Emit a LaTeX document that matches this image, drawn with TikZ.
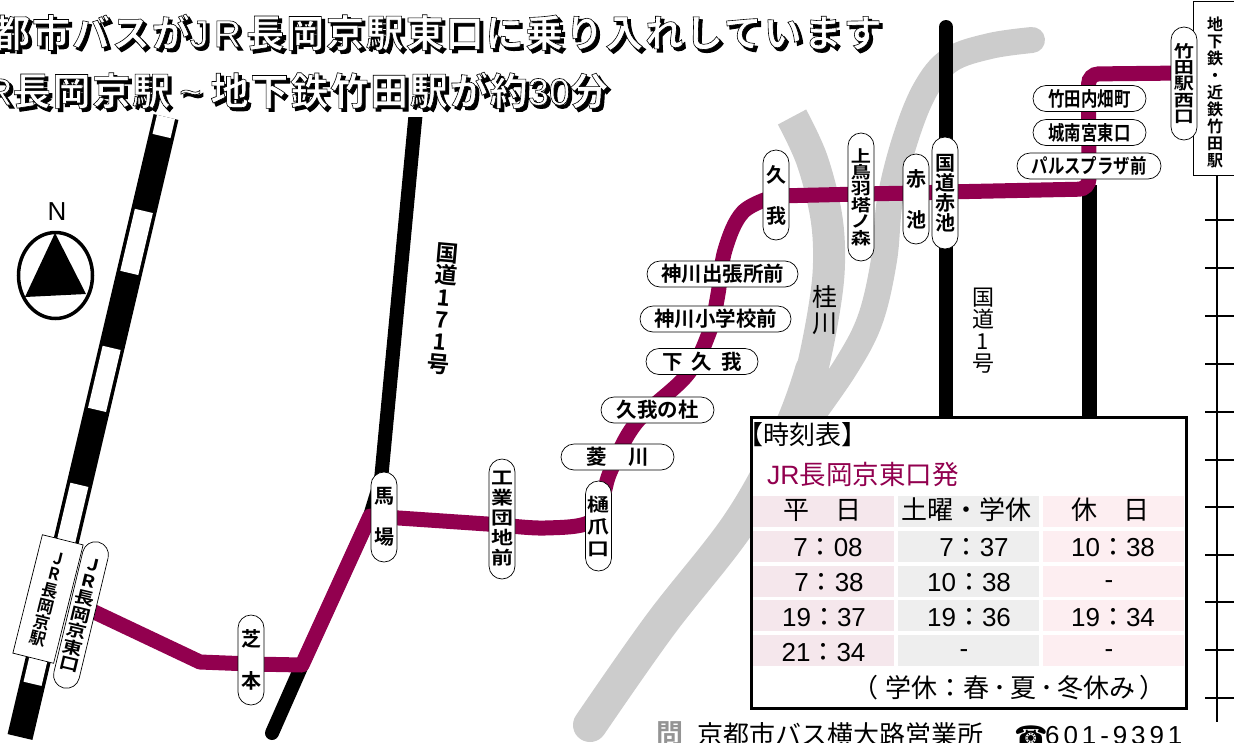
\documentclass[tikz,border=0pt]{standalone}
\usepackage{fontspec}
\setmainfont{Noto Sans CJK JP}[BoldFont=* Bold]
\newfontfamily\lat{Liberation Sans}
\newfontfamily\latw{Liberation Sans}[LetterSpace=15]
\newfontfamily\ttl{Noto Sans CJK JP Bold}[LetterSpace=5]
\newfontfamily\stb{Noto Sans CJK JP Bold}
\newfontfamily\stw{Noto Sans CJK JP Bold}[FakeStretch=1.22]
\newfontfamily\stn{Noto Sans CJK JP Bold}[FakeStretch=0.82]
\newfontfamily\sym{DejaVu Sans}
\definecolor{route}{HTML}{92004F}
\definecolor{river}{HTML}{CCCCCC}
\definecolor{colA}{HTML}{F5E7EC}
\definecolor{colB}{HTML}{EEEEEE}
\definecolor{colC}{HTML}{FDEEF1}
\newcommand\fs[2]{\fontsize{#1}{#2}\selectfont}
\tikzset{
 vpill/.style={draw,fill=white,line width=.7pt,rounded corners=13pt,minimum width=26pt,inner sep=0pt,align=center},
 hpill/.style={draw,fill=white,line width=.7pt,rounded corners=13pt,minimum height=26pt,inner sep=0pt,align=center,font=\stb\fs{20.5}{22}},
 celltext/.style={inner sep=0pt,font=\lat\fs{26}{28}},
 titlebase/.style={inner sep=0pt,anchor=base west,font=\ttl\fs{38}{40}},
 tick/.style={line width=2.5pt},
}
\newcommand\outl[1]{\special{pdf:code 2 Tr 0.6 w 1 1 1 rg 0 0 0 RG}#1\special{pdf:code 0 Tr 0 0 0 rg}}
\newcommand\shad[1]{\special{pdf:code 2 Tr 1.2 w 0 0 0 rg 0 0 0 RG}#1\special{pdf:code 0 Tr 0 0 0 rg}}
\begin{document}
\begin{tikzpicture}[x=1pt,y=-1pt]
\useasboundingbox (0,0) rectangle (1234,742);
\clip (0,0) rectangle (1234,742);
% river
\draw[river,line width=34pt,line cap=round] plot[smooth,tension=.6] coordinates {(812,370)(790,430)(740,522)(660,625)(590,725)};
\draw[river,line width=32pt] plot[smooth,tension=.6] coordinates {(792,117)(812,160)(826,215)(829,263)(824,310)(812,370)(800,405)};
\draw[river,line width=26pt,line cap=round] plot[smooth,tension=.6] coordinates {(1032,40)(990,46)(950,60)(925,90)(905,140)(890,200)(884,260)(870,320)(845,368)(805,425)};
% railway
\coordinate (railtop) at (166,117);
\coordinate (railbot) at (20,737);
\draw[line width=25.5pt] (railtop) -- (railbot);
\draw[white,line width=18.5pt,dash pattern=on 63.7pt off 77pt,dash phase=44.2pt] (railtop) -- (railbot);
% roads
\begin{scope}
\clip (200,117) rectangle (600,742);
\draw[line width=14pt,line cap=round,line join=round] (416,110) -- (381,480) -- (370,516) -- (302,665) -- (272,733);
\end{scope}
\draw[line width=14pt,line cap=round] (946,27) -- (946,416);
\draw[line width=15pt] (1089,185) -- (1089,416);
% stations coordinates
\coordinate (pJR) at (88,609);
\coordinate (pShiba) at (251,664);
\coordinate (pBaba) at (384,517);
\coordinate (pKogyo) at (502,525);
\coordinate (pHizume) at (590,522);
\coordinate (pHishi) at (611,470);
\coordinate (pKugaMori) at (636,423);
\coordinate (pShimo) at (687,375);
\coordinate (pShogaku) at (709,333);
\coordinate (pShutcho) at (717.5,297);
\coordinate (pKuga) at (776,196);
\coordinate (pKami) at (861,194);
\coordinate (pAkaike) at (916,193);
\coordinate (pKokudo) at (945,192);
\coordinate (pPalace) at (1089,189);
\coordinate (pNishi) at (1184,73);
% route
\draw[route,line width=15pt,line join=round] (pJR) -- (200,662) -- (pShiba) -- (302,665) -- (370,516) -- (pBaba) -- (pKogyo);
\draw[route,line width=15pt] plot[smooth,tension=.6] coordinates {(pKogyo)(545,528)(pHizume)(603,495)(pHishi)(pKugaMori)(pShimo)(pShogaku)(pShutcho)(725,250)(743,212)(pKuga)};
\draw[route,line width=15pt,rounded corners=10pt] (pKuga) -- (pKami) -- (pAkaike) -- (pKokudo) -- (pPalace) -- (1088.5,74) -- (pNishi);
% right line
\coordinate (ltop) at (1217,170);
\coordinate (lbot) at (1217,722);
\draw[line width=2.5pt] (ltop) -- (lbot);
\foreach \ty in {220,268,316,364,412,460,507,555,602,650,698}
  \draw[tick] (1205,\ty) -- (1234,\ty);
\node[draw,fill=white,line width=.8pt,minimum width=60pt,minimum height=174pt,inner sep=0pt] (chika) at (1223,88.5) {};
\node[inner sep=0pt,align=center,font=\stb\fs{16}{17}] (chikat) at (1215,92) {地\\下\\鉄\\・\\近\\鉄\\竹\\田\\駅};
% compass
\node[inner sep=0pt,font=\lat\fs{26}{28}] (north) at (57,212) {N};
\draw[line width=3.5pt] (55.5,275.5) ellipse [x radius=37,y radius=43];
\fill (55,233) -- (25,297) -- (86,294) -- cycle;
% station box
\node[draw,fill=white,line width=.7pt,rotate=-14,minimum width=42pt,minimum height=122pt,inner sep=0pt,align=center,font=\stb\fs{16.5}{16.5}] (jrst) at (48,599) {J\\R\\長\\岡\\京\\駅};
\node[vpill,rotate=-13.5,minimum height=150pt,font=\stw\fs{16.5}{17}] (jrpill) at (81,615) {J\\R\\長\\岡\\京\\東\\口};
\node[vpill,minimum height=90pt,font=\stb\fs{20}{22}] (shiba) at (251,660) {芝\\[20pt]本};
\node[vpill,minimum height=90pt,font=\stb\fs{20}{22}] (baba) at (384,517) {馬\\[19pt]場};
\node[vpill,minimum height=120pt,font=\stw\fs{18}{20}] (kogyo) at (502,519) {工\\業\\団\\地\\前};
\node[vpill,minimum height=90pt,font=\stw\fs{18}{22}] (hizume) at (598.5,526) {樋\\爪\\口};
\node[hpill,minimum width=113pt] (hishi) at (617.5,457) {菱\hspace{22pt}川};
\node[hpill,minimum width=113pt] (kmori) at (657.5,410) {久我の杜};
\node[hpill,minimum width=112pt] (shimo) at (702,361.5) {下\hspace{9pt}久\hspace{9pt}我};
\node[hpill,minimum width=151pt] (shogaku) at (715.5,319) {神川小学校前};
\node[hpill,minimum width=151pt] (shutcho) at (722.5,274) {神川出張所前};
\node[vpill,minimum height=90pt,font=\stb\fs{20}{22}] (kuga) at (776,195) {久\\[19pt]我};
\node[vpill,minimum height=128pt,font=\stw\fs{16.5}{16.4}] (kami) at (861,197) {上\\鳥\\羽\\塔\\ノ\\森};
\node[vpill,minimum height=90pt,font=\stb\fs{20}{22}] (akaike) at (916,199) {赤\\[19pt]池};
\node[vpill,minimum height=112pt,font=\stb\fs{20}{20}] (kokudo) at (945,193) {国\\道\\赤\\池};
\node[hpill,minimum width=113pt,font=\stn\fs{20}{22}] (uchi) at (1089.5,98.5) {竹田内畑町};
\node[hpill,minimum width=113pt,font=\stn\fs{20}{22}] (joh) at (1089.5,132.5) {城南宮東口};
\node[hpill,minimum width=144pt,font=\stn\fs{20}{22}] (pal) at (1089,166) {パルスプラザ前};
\node[vpill,minimum height=113pt,font=\stw\fs{16.5}{16.4}] (nishi) at (1184,83.5) {竹\\田\\駅\\西\\口};
% road / river labels
\node[inner sep=0pt,rotate=-5,align=center,font=\stb\fs{22.5}{22.4}] (r171) at (443,309) {国\\道\\1\\7\\1\\号};
\node[inner sep=0pt,align=center,font=\fs{22}{22}] (r1) at (983,331) {国\\道\\1\\号};
\node[inner sep=0pt,align=center,font=\fs{25}{26}] (katsura) at (825,310) {桂\\川};
% timetable
\node[draw,fill=white,line width=3pt,minimum width=435pt,minimum height=291pt,inner sep=0pt] (tbl) at (968.5,562.5) {};
\node[inner sep=0pt,anchor=west,font=\fs{26}{27}] (tbt) at (737,434.5) {【時刻表】};
\node[inner sep=0pt,anchor=west,text=route,font=\fs{26.5}{27}] (tbs) at (767,474) {{\lat JR}長岡京東口発};
\foreach \yy in {496,531,566,600,635}{
 \fill[colA] (753,\yy) rectangle ++(141,31);
 \fill[colB] (898,\yy) rectangle ++(141,31);
 \fill[colC] (1043,\yy) rectangle ++(141,31);
}
\node[inner sep=0pt,font=\fs{26}{28}] (h1) at (822,510) {平\hspace{26pt}日};
\node[inner sep=0pt,font=\fs{26}{28}] (h2) at (966,510) {土曜・学休};
\node[inner sep=0pt,font=\fs{26}{28}] (h3) at (1110,510) {休\hspace{26pt}日};
\newcommand\tm[2]{{\lat #1}{\rmfamily：}{\lat #2}}
\node[celltext] (a1) at (828,548) {\tm{7}{08}};
\node[celltext] (a2) at (829,583) {\tm{7}{38}};
\node[celltext] (a3) at (824,618) {\tm{19}{37}};
\node[celltext] (a4) at (823.5,653) {\tm{21}{34}};
\node[celltext] (b1) at (974,548) {\tm{7}{37}};
\node[celltext] (b2) at (969,583) {\tm{10}{38}};
\node[celltext] (b3) at (969,618) {\tm{19}{36}};
\node[celltext] (b4) at (964,653.5) {-};
\node[celltext] (c1) at (1113,548) {\tm{10}{38}};
\node[celltext] (c2) at (1109,584.5) {-};
\node[celltext] (c3) at (1113,618) {\tm{19}{34}};
\node[celltext] (c4) at (1109,653.5) {-};
\node[inner sep=0pt,font=\fs{26}{27}] (tbn) at (1009,688) {（\hspace{7pt}学休：春\hspace{4pt}･\hspace{4pt}夏\hspace{4pt}･\hspace{4pt}冬休み\hspace{4pt}）};
% footer
\node[inner sep=0pt,anchor=base west,text=black!42,font=\stb\fs{27}{28}] (icon) at (656,743) {問};
\node[inner sep=0pt,anchor=base west,font=\fs{26}{28}] (foot) at (697,744) {京都市バス横大路営業所};
\node[inner sep=0pt,anchor=base west,font=\sym\fs{27}{28}] (phone) at (1014,745) {☎};
\node[inner sep=0pt,anchor=base west,font=\latw\fs{26}{28}] (tel) at (1045,744) {601-9391};
% title
\node[titlebase,text=black] (t1s) at (-5,50) {\shad{都市バスが{\lat J\hspace{5pt}R\hspace{5pt}}長岡京駅東口に乗り入れしています}};
\node[titlebase] (t1) at (-8,47) {\outl{都市バスが{\lat J\hspace{5pt}R\hspace{5pt}}長岡京駅東口に乗り入れしています}};
\node[titlebase,text=black] (t2s) at (-12,108) {\shad{{\lat R}長岡京駅\hspace{9pt}{\lat\char"7E}\hspace{9pt}地下鉄竹田駅が約{\lat 30}分}};
\node[titlebase] (t2) at (-15,105) {\outl{{\lat R}長岡京駅\hspace{9pt}{\lat\char"7E}\hspace{9pt}地下鉄竹田駅が約{\lat 30}分}};
\end{tikzpicture}
\end{document}
